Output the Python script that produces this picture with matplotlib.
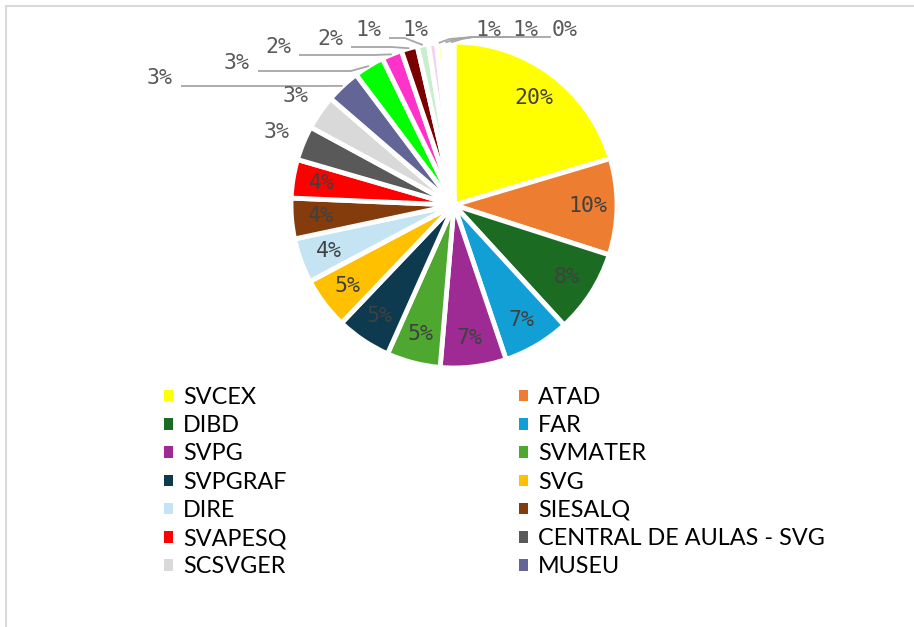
import matplotlib
matplotlib.use("Agg")
import numpy as np
import matplotlib.pyplot as plt
from matplotlib.patches import Patch

# categories shown in the legend (the remaining small slices have no legend entry)
categories = ["SVCEX", "ATAD", "DIBD", "FAR", "SVPG", "SVMATER", "SVPGRAF",
              "SVG", "DIRE", "SIESALQ", "SVAPESQ", "CENTRAL DE AULAS - SVG",
              "SCSVGER", "MUSEU"]
values = [20.3, 9.5, 8.2, 6.6, 6.5, 5.3, 5.4, 5.1, 4.4, 4.0, 3.8, 3.4, 3.4, 3.4,
          3.0, 2.0, 1.6, 1.1, 0.8, 0.6, 0.7, 0.4]
colors = ["#FFFF00", "#ED7D31", "#1B6B23", "#119FD6", "#9E2A93", "#4EA72E",
          "#0E3A4F", "#FFC000", "#C4E4F4", "#843C0C", "#FF0000", "#595959",
          "#D9D9D9", "#636597", "#00FF00", "#FF33CC", "#7B0000", "#C6EFCE",
          "#F5D0F0", "#FFFF99", "#FFFFFF", "#5B5BFF"]

W, H = 914, 627
fig = plt.figure(figsize=(W / 100, H / 100), dpi=100)
ax = fig.add_axes([0, 0, 1, 1])

cx, cy, R = 454, H - 205, 163
wedges, _ = ax.pie(values, colors=colors, startangle=90, counterclock=False,
                   center=(cx, cy), radius=R,
                   wedgeprops=dict(edgecolor="white", linewidth=3.5))
ax.set_aspect("auto")
ax.set_xlim(0, W)
ax.set_ylim(0, H)
ax.axis("off")

# chart frame
ax.plot([6, 6], [0, H - 6], color="#d9d9d9", lw=1.5)
ax.plot([6, W], [H - 6, H - 6], color="#d9d9d9", lw=1.5)

total = sum(values)
pcts = ["%.0f%%" % (v / total * 100) for v in values]
mono = "DejaVu Sans Mono"
fs = 15.5


def mid_point(w, r):
    a = np.deg2rad((w.theta1 + w.theta2) / 2)
    return cx + r * np.cos(a), cy + r * np.sin(a)


# labels inside the pie
for i in range(11):
    x, y = mid_point(wedges[i], 0.82 * R)
    ax.text(x, y, pcts[i], ha="center", va="center", fontsize=fs,
            family=mono, color="#404040")

# two labels just outside
for i in (11, 12):
    x, y = mid_point(wedges[i], 1.18 * R)
    ax.text(x, y, pcts[i], ha="center", va="center", fontsize=fs,
            family=mono, color="#595959")

# small slices: labels on top with leader lines (image pixel layout)
outer_pos = [(160, 78), (237, 63), (278, 47), (330, 39), (368, 30),
             (415, 30), (488, 30), (525, 30), (565, 30)]
line_col = "#a6a6a6"
for k, i in enumerate(range(13, 22)):
    tx, ty = outer_pos[k]
    ax.text(tx, H - ty, pcts[i], ha="center", va="center", fontsize=fs,
            family=mono, color="#595959")
    wx, wy = mid_point(wedges[i], R)
    if k <= 4:
        sx, sy = tx + 21, H - ty - 8
        ax.plot([sx, wx - 18, wx], [sy, sy, wy], color=line_col, lw=1.3,
                solid_capstyle="butt")
    elif k >= 6:
        lx = tx - 15
        ax.plot([wx, wx + 10, 473, lx], [wy, H - 39, H - 37, H - 37],
                color=line_col, lw=1.3)

# legend, two columns
legend_font = {"family": ["Lato", "DejaVu Sans"], "size": 16.8}
handles = [Patch(facecolor=colors[i], edgecolor="none") for i in range(len(categories))]
left_idx = list(range(0, len(categories), 2))
right_idx = list(range(1, len(categories), 2))
kw = dict(frameon=False, prop=legend_font, handlelength=0.38, handleheight=0.38,
          handletextpad=0.45, labelspacing=0.31, borderpad=0, borderaxespad=0,
          loc="upper left", bbox_transform=fig.transFigure)
leg1 = ax.legend([handles[i] for i in left_idx], [categories[i] for i in left_idx],
                 bbox_to_anchor=(164 / W, 1 - 387 / H), **kw)
ax.add_artist(leg1)
ax.legend([handles[i] for i in right_idx], [categories[i] for i in right_idx],
          bbox_to_anchor=(519 / W, 1 - 387 / H), **kw)

fig.savefig("out.png", dpi=100)
